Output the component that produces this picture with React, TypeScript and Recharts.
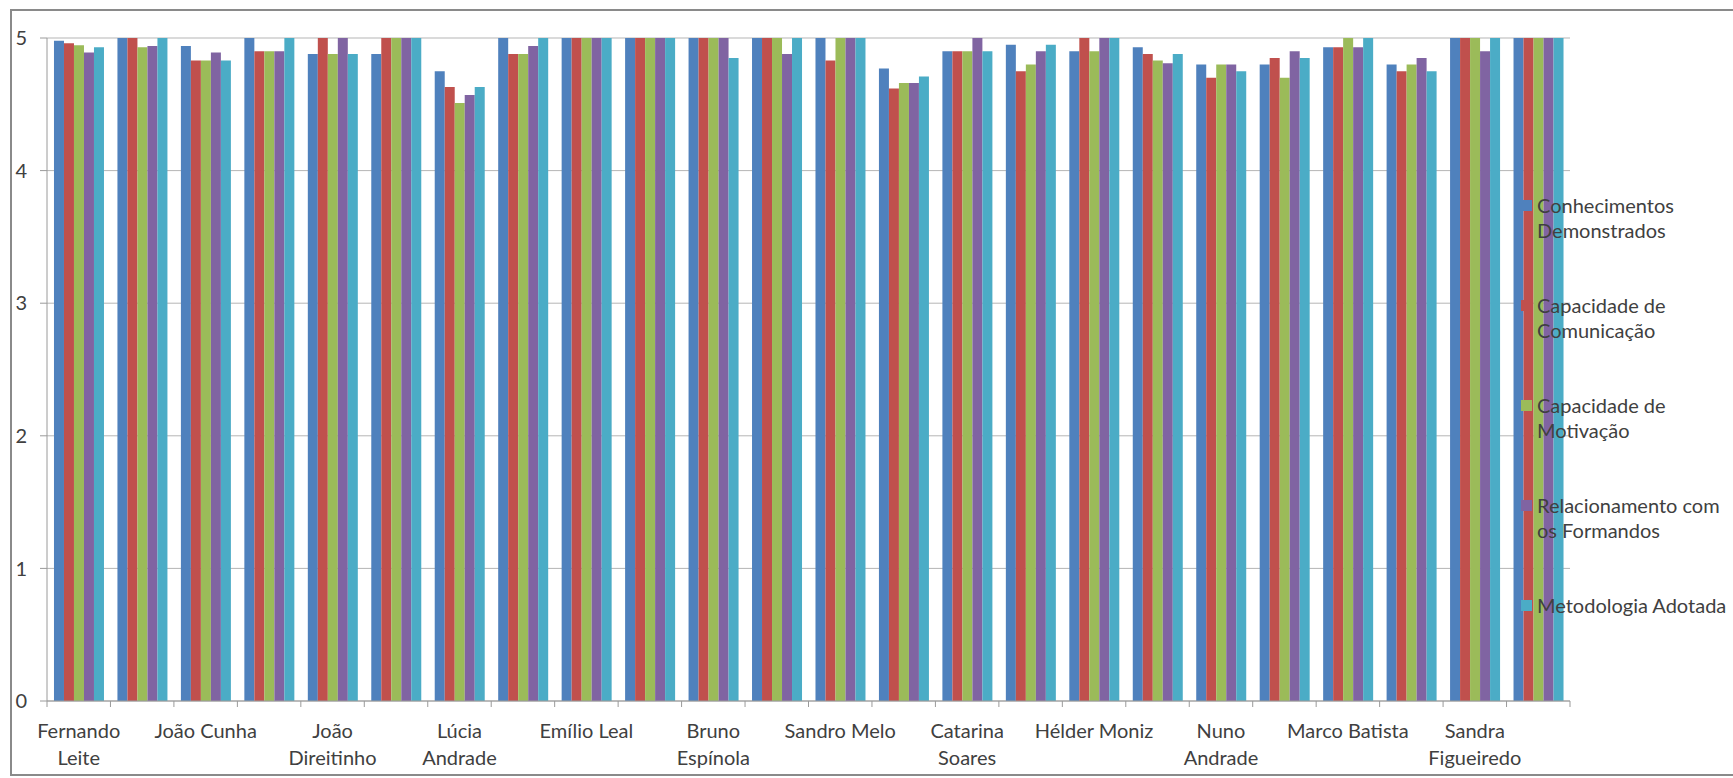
import { BarChart, Bar, XAxis, YAxis, CartesianGrid, Legend } from 'recharts';

// formadores (every second label is hidden in the original, Excel skipped them)
const formadores = [
  'Fernando\nLeite', '', 'João Cunha', '', 'João\nDireitinho', '', 'Lúcia\nAndrade', '',
  'Emílio Leal', '', 'Bruno\nEspínola', '', 'Sandro Melo', '', 'Catarina\nSoares', '',
  'Hélder Moniz', '', 'Nuno\nAndrade', '', 'Marco Batista', '', 'Sandra\nFigueiredo', '',
];

const conhecimentos = [4.98, 5, 4.94, 5, 4.88, 4.88, 4.75, 5, 5, 5, 5, 5, 5, 4.77, 4.9, 4.95, 4.9, 4.93, 4.8, 4.8, 4.93, 4.8, 5, 5];
const comunicacao = [4.96, 5, 4.83, 4.9, 5, 5, 4.63, 4.88, 5, 5, 5, 5, 4.83, 4.62, 4.9, 4.75, 5, 4.88, 4.7, 4.85, 4.93, 4.75, 5, 5];
const motivacao = [4.945, 4.93, 4.83, 4.9, 4.88, 5, 4.51, 4.88, 5, 5, 5, 5, 5, 4.66, 4.9, 4.8, 4.9, 4.83, 4.8, 4.7, 5, 4.8, 5, 5];
const relacionamento = [4.89, 4.94, 4.89, 4.9, 5, 5, 4.57, 4.94, 5, 5, 5, 4.88, 5, 4.66, 5, 4.9, 5, 4.81, 4.8, 4.9, 4.93, 4.85, 4.9, 5];
const metodologia = [4.93, 5, 4.83, 5, 4.88, 5, 4.63, 5, 5, 5, 4.85, 5, 5, 4.71, 4.9, 4.95, 5, 4.88, 4.75, 4.85, 5, 4.75, 5, 5];

const yTicks = [0, 1, 2, 3, 4, 5];

const series = [
  { key: 'conhecimentos', label: 'Conhecimentos\nDemonstrados', color: '#4F81BD' },
  { key: 'comunicacao', label: 'Capacidade de\nComunicação', color: '#C0504D' },
  { key: 'motivacao', label: 'Capacidade de\nMotivação', color: '#9BBB59' },
  { key: 'relacionamento', label: 'Relacionamento com\nos Formandos', color: '#8064A2' },
  { key: 'metodologia', label: 'Metodologia Adotada', color: '#4BACC6' },
];

const chartData = formadores.map((name, i) => ({
  name,
  conhecimentos: conhecimentos[i],
  comunicacao: comunicacao[i],
  motivacao: motivacao[i],
  relacionamento: relacionamento[i],
  metodologia: metodologia[i],
}));

const FONT = 'Lato, "Liberation Sans", sans-serif';
const TEXT = '#404040';
const AXIS = '#9a9a9a';

const WIDTH = 1733;
const HEIGHT = 778;
const Y_AXIS_W = 47;
const RIGHT = 163;
const BAND = (WIDTH - Y_AXIS_W - RIGHT) / formadores.length;

function CategoryTick(props: any) {
  const { x, y, payload, index } = props;
  const lines = String(payload.value).split('\n');
  return (
    <g>
      <line x1={x - BAND / 2} x2={x - BAND / 2} y1={y} y2={y + 6} stroke={AXIS} />
      {index === formadores.length - 1 && (
        <line x1={x + BAND / 2} x2={x + BAND / 2} y1={y} y2={y + 6} stroke={AXIS} />
      )}
      <text x={x} y={y + 37} textAnchor="middle" fill={TEXT} fontSize={20} fontFamily={FONT}>
        {lines.map((l, i) => (
          <tspan key={i} x={x} dy={i === 0 ? 0 : 27}>{l}</tspan>
        ))}
      </text>
    </g>
  );
}

// legend keeps the series order (recharts would sort it by name)
function LegendBox() {
  return (
    <div style={{ fontFamily: FONT, fontSize: 20, color: TEXT }}>
      {series.map((s) => (
        <div key={s.key} style={{ position: 'relative', height: 100, paddingLeft: 16, lineHeight: '25px', whiteSpace: 'pre' }}>
          <span style={{ position: 'absolute', left: 0, top: 7, width: 11, height: 11, background: s.color }} />
          {s.label}
        </div>
      ))}
    </div>
  );
}

export default function App() {
  return (
    <div style={{ position: 'absolute', left: 0, top: 0, width: WIDTH, height: HEIGHT, overflow: 'hidden', background: '#fff' }}>
      <div style={{ position: 'absolute', left: 10, top: 9, width: 1800, height: 767, boxSizing: 'border-box', border: '2px solid #8a8a8a' }} />
      <div style={{ position: 'absolute', left: 0, top: 0 }}>
        <BarChart
          width={WIDTH}
          height={HEIGHT}
          data={chartData}
          margin={{ top: 38, right: RIGHT, bottom: 0, left: 0 }}
          barCategoryGap="11%"
          barGap={0}
        >
          <CartesianGrid vertical={false} stroke="#b5b5b5" />
          <XAxis
            dataKey="name"
            height={77}
            interval={0}
            tickLine={false}
            tickSize={0}
            tickMargin={0}
            axisLine={{ stroke: AXIS }}
            tick={<CategoryTick />}
          />
          <YAxis
            width={Y_AXIS_W}
            domain={[0, 5]}
            ticks={yTicks}
            tickSize={7}
            tickMargin={13}
            axisLine={{ stroke: AXIS }}
            tickLine={{ stroke: AXIS }}
            tick={{ fill: TEXT, fontSize: 20, fontFamily: FONT }}
          />
          <Legend
            layout="horizontal"
            align="center"
            verticalAlign="middle"
            wrapperStyle={{ left: 1521, top: 193, width: 212 }}
            content={<LegendBox />}
          />
          {series.map((s) => (
            <Bar key={s.key} dataKey={s.key} name={s.label} fill={s.color} isAnimationActive={false} />
          ))}
        </BarChart>
      </div>
    </div>
  );
}
